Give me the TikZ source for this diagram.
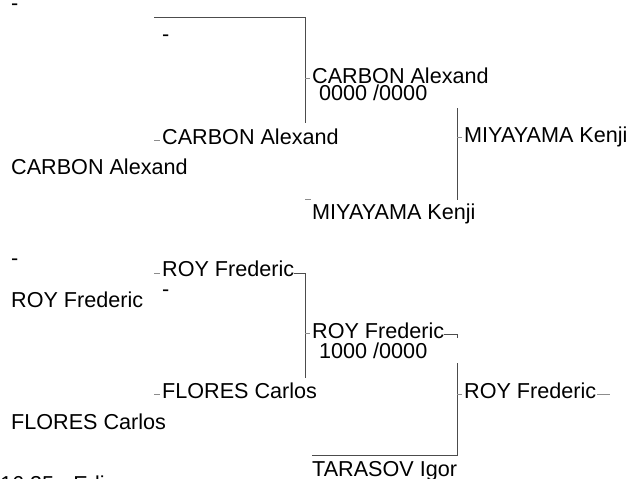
\documentclass[tikz,border=0pt]{standalone}
\usepackage{fontspec}
\setmainfont{Liberation Sans}
\begin{document}
\begin{tikzpicture}[
        x=1pt, y=-1pt,
        nome/.style={anchor=base west, inner sep=0pt, font=\fontsize{21.6}{24}\selectfont},
        linha/.style={draw=black!70, line width=0.9pt},
        traco/.style={draw=black!45, line width=0.8pt}
    ]

        \useasboundingbox (0,0) rectangle (632,479);
        \clip (0,0) rectangle (632,479);

        % ==================================================
        % COLUNA 1
        % ==================================================

        \node[nome] (a0) at (11,10) {-};
        \node[nome] (a1) at (11,174) {CARBON Alexand};
        \node[nome] (a2) at (11,265) {-};
        \node[nome] (a3) at (11,307) {ROY Frederic};
        \node[nome] (a4) at (11,429) {FLORES Carlos};
        \node[nome] (rodape) at (0,491) {16:35 - Edi};

        % ==================================================
        % COLUNA 2
        % ==================================================

        \node[nome] (b1) at (162,41) {-};
        \node[nome] (b2) at (162,144) {CARBON Alexand};
        \node[nome] (b3) at (162,276) {ROY Frederic};
        \node[nome] (b4) at (162,296) {-};
        \node[nome] (b5) at (162,398) {FLORES Carlos};

        % ==================================================
        % COLUNA 3
        % ==================================================

        \node[nome] (c1) at (312,83) {CARBON Alexand};
        \node[nome] (c1d) at (319,100) {0000 /0000};
        \node[nome] (c2) at (312,219) {MIYAYAMA Kenji};
        \node[nome] (c3) at (312,338) {ROY Frederic};
        \node[nome] (c3d) at (319,358) {1000 /0000};
        \node[nome] (c4) at (312,476) {TARASOV Igor};

        % ==================================================
        % COLUNA 4
        % ==================================================

        \node[nome] (d1) at (464,142) {MIYAYAMA Kenji};
        \node[nome] (d2) at (464,398) {ROY Frederic};

        % Pontos das ligacoes
        \coordinate (t1) at (154,17);
        \coordinate (t2) at (305,123);
        \coordinate (t3) at (457,108);
        \coordinate (t4) at (457,200);
        \coordinate (t5) at (305,378);
        \coordinate (t6) at (457,363);
        \coordinate (t7) at (457,455);

        % Ligacoes
        \draw[linha] (t1) -| (t2);
        \draw[linha] (t3) -- (t4);
        \draw[linha] (b3.base east) ++(0,-3) -| (t5);
        \draw[linha] (c3.base east) ++(0,-4) -| ++(13,4);
        \draw[linha] (t6) -- (t7) -- (c4.west |- t7);

        % Tracos
        \draw[traco] (b2.base west) ++(-8,-4) -- ++(6,0);
        \draw[traco] (b3.base west) ++(-8,-3) -- ++(6,0);
        \draw[traco] (b5.base west) ++(-8,-4) -- ++(6,0);
        \draw[traco] (c1.base west) ++(-7,-5) -- ++(5,0);
        \draw[traco] (c2.base west) ++(-7,-20) -- ++(6,0);
        \draw[traco] (c3.base west) ++(-7,-5) -- ++(5,0);
        \draw[traco] (d1.base west) ++(-7,-5) -- ++(5,0);
        \draw[traco] (d2.base west) ++(-7,-4) -- ++(5,0);
        \draw[traco] (d2.base east) ++(1,-4) -- ++(13,0);

\end{tikzpicture}
\end{document}
